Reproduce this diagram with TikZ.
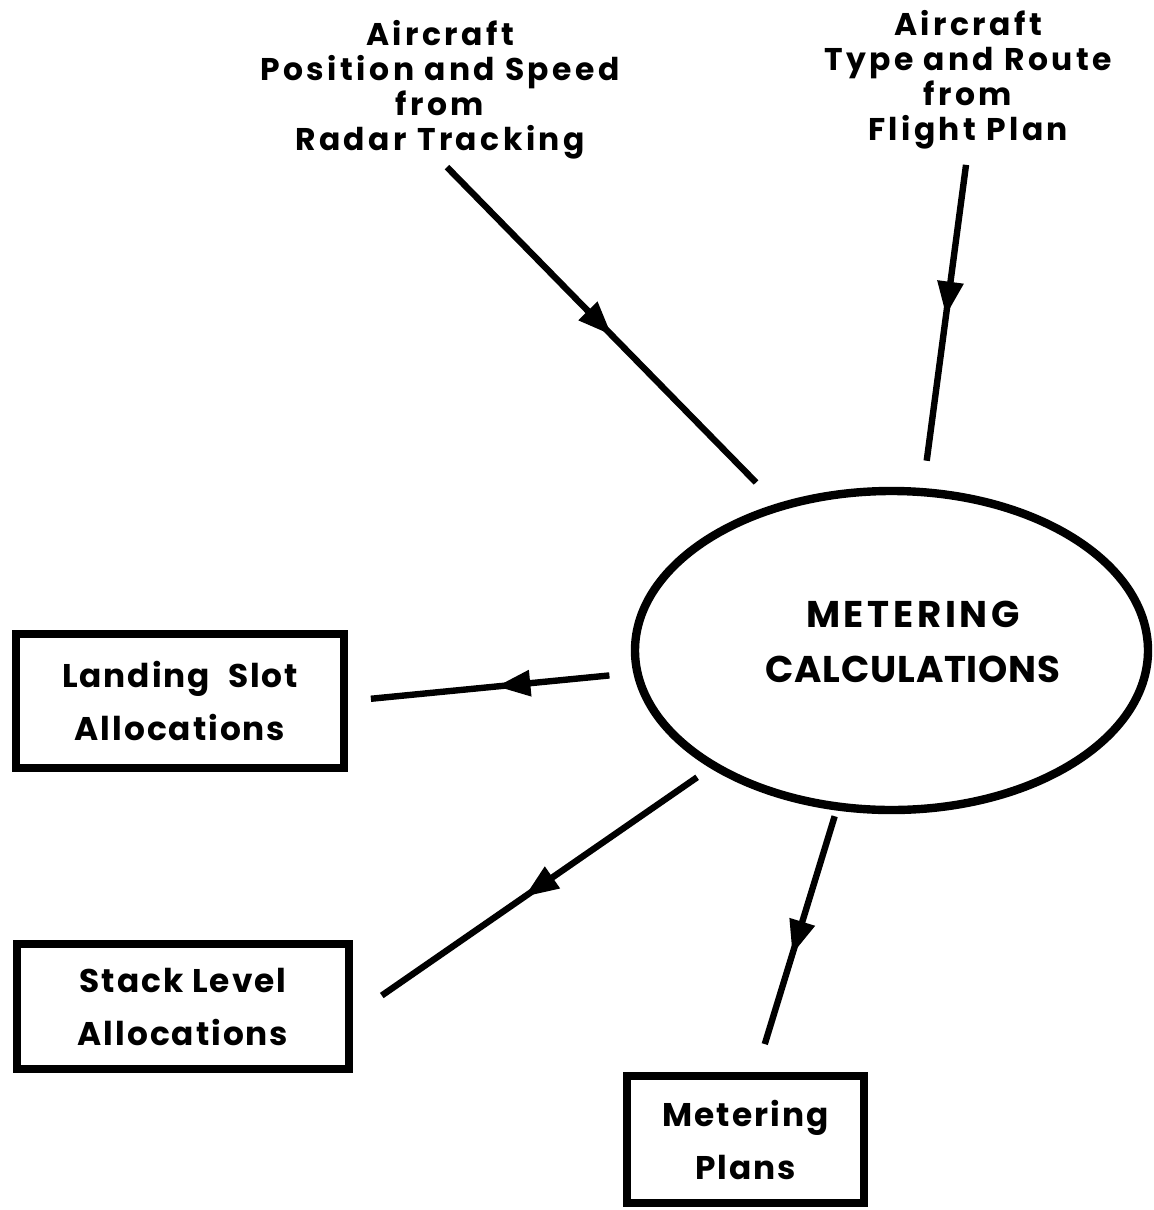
\documentclass[tikz,border=0pt]{standalone}
\usepackage{fontspec}
\setmainfont{Poppins}
\newfontfamily\srcfont{Poppins}[LetterSpace=11]
\newfontfamily\storefont{Poppins}[LetterSpace=6]
\newfontfamily\procfont{Poppins}[LetterSpace=2]
\usetikzlibrary{shapes.geometric,arrows.meta,decorations.markings}

\begin{document}
\begin{tikzpicture}[x=0.5pt,y=-0.5pt]
  \tikzstyle{source}=[align=center,inner sep=0pt,
    font=\srcfont\fontsize{15.7}{17.5}\selectfont\bfseries]
  \tikzstyle{store}=[rectangle,draw,line width=4pt,inner sep=0pt,align=center,
    font=\storefont\fontsize{16.4}{26.5}\selectfont\bfseries]
  \tikzstyle{process}=[ellipse,draw,line width=4.2pt,inner sep=0pt,
    minimum width=256.5pt,minimum height=159.5pt]
  \tikzstyle{flow}=[line width=3.2pt,postaction={decorate},
    decoration={markings,mark=at position #1 with
      {\arrow{Triangle[length=17pt,width=12.5pt]}}}]

  \useasboundingbox (0,0) rectangle (1153,1210);

  % inputs
  \node [source,anchor=south] (radar) at (440,160)
    {Aircraft\\Position and Speed\\from\\Radar Tracking};
  \node [source,anchor=south] (flight) at (968,150)
    {Aircraft\\Type and Route\\from\\Flight Plan};

  % the process
  \node [process] (calc) at (891.5,650.5) {};
  \node [font=\procfont\fontsize{18.6}{27.5}\selectfont\bfseries,align=center] (calctext)
    at (913,642) {{\addfontfeature{LetterSpace=10}METERING}\\CALCULATIONS};

  % outputs
  \node [store,minimum width=164pt,minimum height=67pt] (landing) at (180,701)
    {Landing\ \ Slot\\Allocations};
  \node [store,minimum width=166pt,minimum height=62.5pt] (stack) at (183,1006.5)
    {Stack Level\\Allocations};
  \node [store,minimum width=118.5pt,minimum height=63.5pt] (plans) at (745.5,1139.5)
    {Metering\\Plans};

\draw [flow=0.51,shorten <=5pt,shorten >=14.75pt] (radar.south) -- (calc.128.5);
\draw [flow=0.49,shorten <=7.5pt,shorten >=13.75pt] (flight.south) -- (calc.79.4);
\draw [flow=0.48,shorten <=12pt,shorten >=11.5pt] (calc.185.5) -- (landing.east);
\draw [flow=0.52,shorten <=8pt,shorten >=17.5pt] (calc.213.1) -- (stack.-3.5);
\draw [flow=0.55,shorten <=3pt,shorten >=14.6pt] (calc.251.6) -- (plans.81.3);
\end{tikzpicture}
\end{document}
